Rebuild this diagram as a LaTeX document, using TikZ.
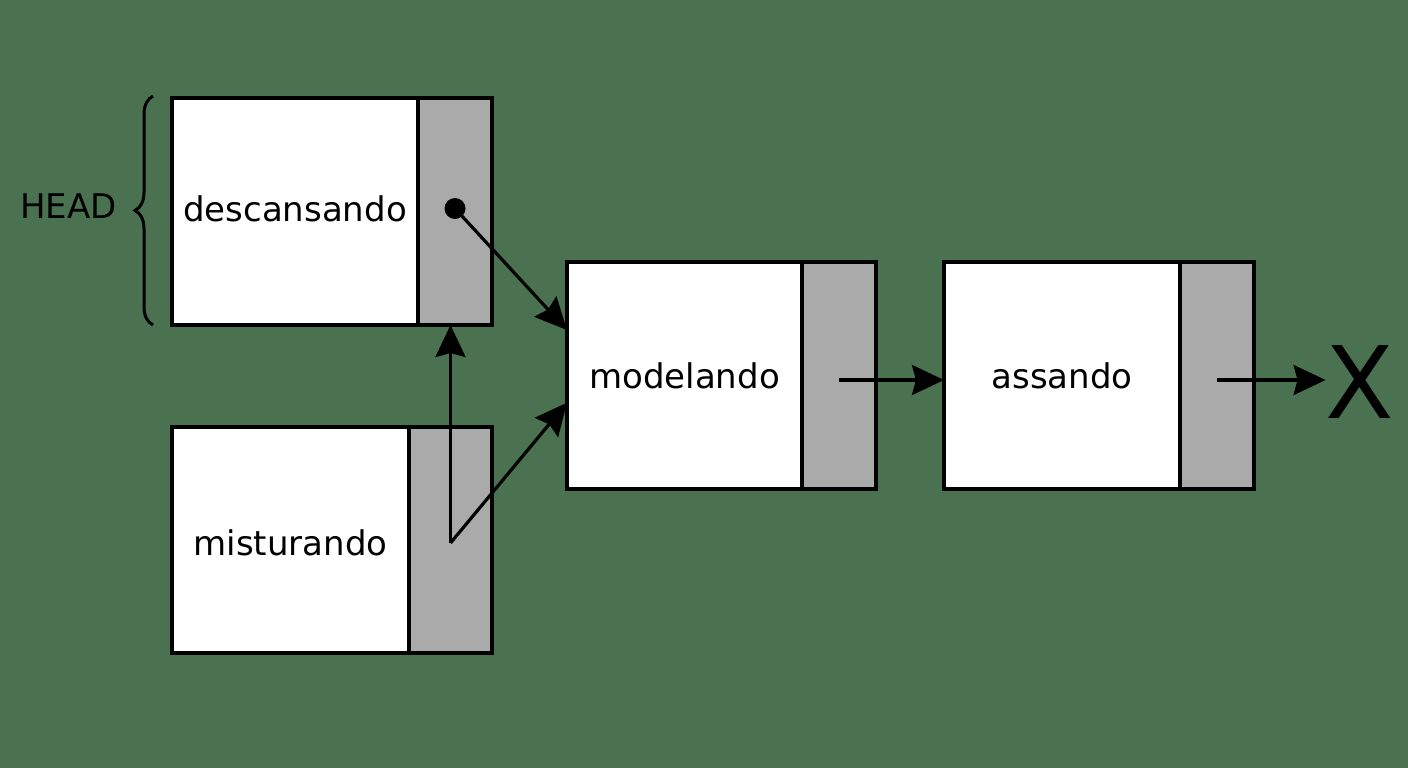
\documentclass[tikz,border=0pt]{standalone}
\usepackage{fontspec}
\setmainfont{DejaVu Sans}
\usetikzlibrary{arrows.meta,calc,decorations.pathreplacing}
\definecolor{bg}{RGB}{74,114,80}
\definecolor{ptr}{RGB}{170,170,170}
\newcommand{\shifttext}[2]{\raisebox{#1}[\height][\depth]{#2}}
\tikzset{
  databox/.style={draw=black, fill=white, line width=3.2pt, inner sep=0pt, outer sep=0pt, minimum height=227pt, font=\fontsize{34}{40}\selectfont},
  ptrbox/.style={draw=black, fill=ptr, line width=3.2pt, inner sep=0pt, outer sep=0pt, minimum height=227pt, minimum width=74pt},
  link/.style={line width=3.2pt, -{Stealth[length=32pt,width=30pt,inset=4pt]}},
}
\begin{document}
\begin{tikzpicture}[x=1pt,y=-1pt]
\useasboundingbox (0,0) rectangle (1408,768);
\fill[bg] (0,0) rectangle (1408,768);
% boxes
\node[databox, minimum width=246pt] (d1) at (295,211.5) {\shifttext{3pt}{descansando}};
\node[ptrbox] (p1) at (455,211.5) {};
\node[databox, minimum width=237pt, minimum height=226pt] (d2) at (290.5,540) {\shifttext{-3pt}{misturando}};
\node[ptrbox, minimum width=83pt, minimum height=226pt] (p2) at (450.5,540) {};
\node[databox, minimum width=235pt] (d3) at (684.5,375.5) {modelando};
\node[ptrbox] (p3) at (839,375.5) {};
\node[databox, minimum width=236pt] (d4) at (1062,375.5) {assando};
\node[ptrbox] (p4) at (1217,375.5) {};
\node[font=\fontsize{100}{100}\selectfont, inner sep=0pt] (x) at (1360,382) {X};
\node[font=\fontsize{34}{40}\selectfont, anchor=east, inner sep=0pt] (head) at (117,206) {HEAD};
% brace
\coordinate (bb) at (153,325);
\coordinate (bt) at (153,96);
\draw[line width=3pt, decorate, decoration={brace, amplitude=18pt}] (bb) -- (bt);
% links
\fill (p1.center) ++(0,-3) coordinate (dot) circle (10.5);
\coordinate (s2) at ([yshift=-3pt]p2.center);
\coordinate (s3) at ([yshift=-4.5pt]p3.center);
\coordinate (s4) at ([yshift=-4.5pt]p4.center);
\draw[link] (dot) -- ($(d3.north west)!0.3!(d3.south west)$);
\draw[link] (s2) -- (s2 |- p1.south);
\draw[link] (s2) -- ($(d3.north west)!0.62!(d3.south west)$);
\draw[link] (s3) -- (s3 -| d4.west);
\draw[link] (s4) -- (s4 -| x.west);
\end{tikzpicture}
\end{document}
